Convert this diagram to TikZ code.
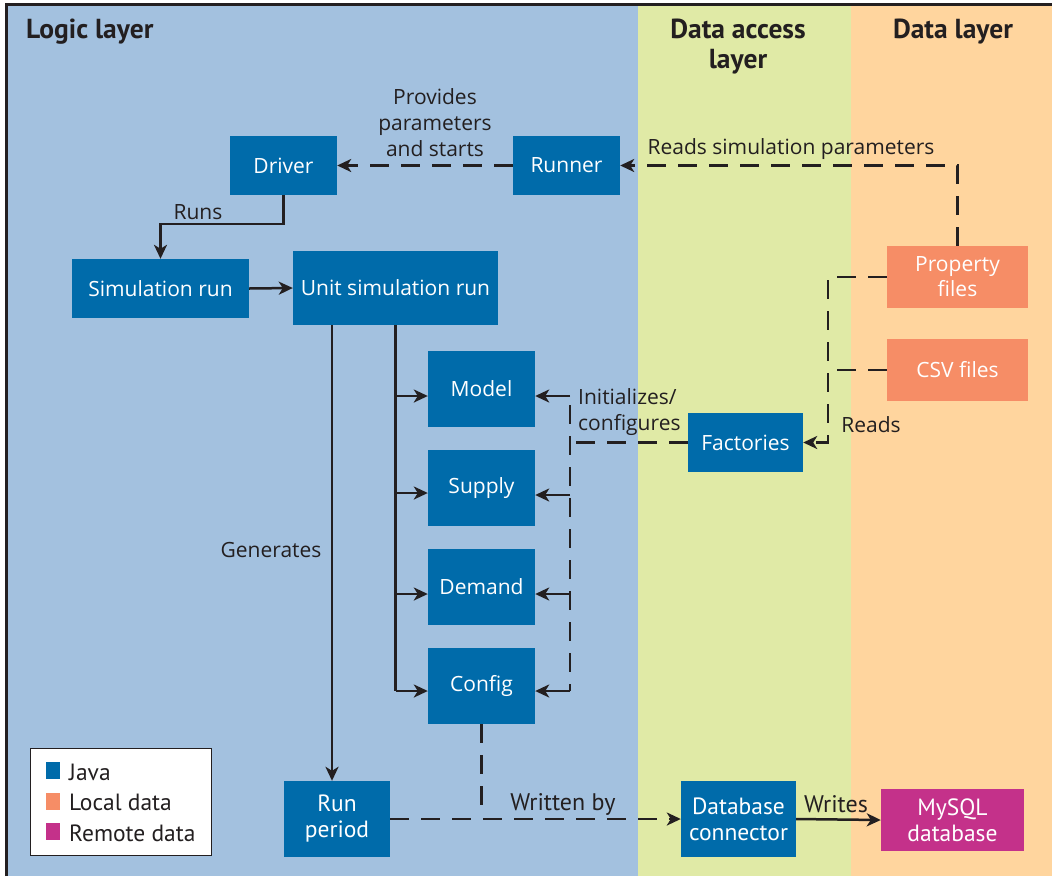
\documentclass[tikz,border=0pt]{standalone}
\usepackage{fontspec}
\setmainfont{Open Sans}
\newfontfamily\cond{PT Sans}
\usetikzlibrary{arrows.meta}
\definecolor{bglogic}{HTML}{A3C1DF}
\definecolor{bgaccess}{HTML}{E0EAA6}
\definecolor{bgdata}{HTML}{FFD59E}
\definecolor{jblue}{HTML}{006BAA}
\definecolor{lorange}{HTML}{F68D66}
\definecolor{rmag}{HTML}{C4318A}
\definecolor{ink}{HTML}{231F20}
\tikzset{
  box/.style={fill=jblue, text=white, inner sep=0pt, align=center, font=\fontsize{21}{25}\selectfont},
  lbox/.style={box, fill=lorange},
  rbox/.style={box, fill=rmag},
  condbox/.style={font=\cond\fontsize{23.5}{26}\selectfont},
  conn/.style={draw=ink, line width=2.5pt, -{Stealth[length=14pt,width=13pt,inset=4pt]}},
  plain/.style={draw=ink, line width=2.5pt},
  dsh/.style={dash pattern=on 19pt off 12pt},
  lbl/.style={text=ink, inner sep=0pt, align=center, font=\fontsize{21}{26}\selectfont},
  clbl/.style={text=ink, inner sep=0pt, align=center, font=\cond\fontsize{24}{26}\selectfont},
  head/.style={text=ink, inner sep=0pt, align=center, font=\cond\bfseries\fontsize{27.5}{30}\selectfont},
}
\begin{document}
\begin{tikzpicture}[x=1pt,y=-1pt]
\useasboundingbox (0,0) rectangle (1052,876);
% backgrounds
\fill[bglogic] (6,4) rectangle (638,876);
\fill[bgaccess] (638,4) rectangle (851,876);
\fill[bgdata] (851,4) rectangle (1052,876);
\draw[ink, line width=3pt] (6,876) -- (6,4) -- (1052,4);
% headings
\node[head, anchor=west] (hlogic) at (26,32) {Logic layer};
\node[head] (haccess) at (738,47) {Data access\\layer};
\node[head] (hdata) at (953,32) {Data layer};
% boxes
\node[box, minimum width=107pt, minimum height=59pt] (driver) at (283.5,165.5) {Driver};
\node[box, minimum width=107pt, minimum height=59pt] (runner) at (566.5,165.5) {Runner};
\node[box, minimum width=177pt, minimum height=59pt] (simrun) at (160.5,288.5) {Simulation run};
\node[box, minimum width=205pt, minimum height=74pt] (usr) at (395.5,288) {Unit simulation run};
\node[box, minimum width=107pt, minimum height=76pt] (model) at (481.5,389) {Model};
\node[box, minimum width=107pt, minimum height=76pt] (supply) at (481.5,488) {Supply};
\node[box, minimum width=107pt, minimum height=76pt] (demand) at (481.5,587) {Demand};
\node[box, minimum width=107pt, minimum height=76pt] (cfg) at (481.5,686) {Config};
\node[box, minimum width=115pt, minimum height=59pt] (fac) at (745.5,442.5) {Factories};
\node[lbox, minimum width=141pt, minimum height=62pt] (prop) at (957.5,277) {Property\\files};
\node[lbox, minimum width=141pt, minimum height=62pt] (csv) at (957.5,370) {CSV files};
\node[box, condbox, minimum width=106pt, minimum height=76pt] (rp) at (337,819) {Run\\period};
\node[box, condbox, minimum width=115pt, minimum height=76pt] (dbc) at (738.5,819) {Database\\connector};
\node[rbox, condbox, minimum width=143pt, minimum height=62pt] (mysql) at (952.5,820) {MySQL\\database};
% helper coordinates
\coordinate (gx) at (332,0);
\coordinate (fx) at (570,0);
\coordinate (px) at (828,0);
% connectors
\draw[conn, dsh] (runner.west) -- (driver.east);
\draw[conn, dsh] (prop.north) |- (runner.east);
\draw[conn] (driver.south) -- ++(0,29) -| (simrun.north);
\draw[conn] (simrun.east) -- (usr.west);
\draw[conn] (usr.south -| gx) -- (rp.north -| gx);
\draw[plain] (usr.south) -- ([yshift=-5pt]cfg.west -| usr.south);
\draw[conn] ([yshift=-7pt]model.west -| usr.south) -- ([yshift=-7pt]model.west);
\draw[conn] ([yshift=-5pt]supply.west -| usr.south) -- ([yshift=-5pt]supply.west);
\draw[conn] ([yshift=-7pt]demand.west -| usr.south) -- ([yshift=-7pt]demand.west);
\draw[conn] ([yshift=-5pt]cfg.west -| usr.south) -- ([yshift=-5pt]cfg.west);
% factories
\draw[plain, dsh] (fac.west) -- (fac.west -| fx);
\draw[plain, dsh] ([yshift=-16pt]model.east -| fx) -- ([yshift=-5pt]cfg.east -| fx);
\draw[conn] ([yshift=-7pt]model.east -| fx) -- ([yshift=-7pt]model.east);
\draw[conn] ([yshift=-7pt]supply.east -| fx) -- ([yshift=-7pt]supply.east);
\draw[conn] ([yshift=-7pt]demand.east -| fx) -- ([yshift=-7pt]demand.east);
\draw[conn] ([yshift=-5pt]cfg.east -| fx) -- ([yshift=-5pt]cfg.east);
% data files to factories
\draw[conn, dsh] (prop.west) -- (prop.west -| px) |- (fac.east);
\draw[plain, dsh] (csv.west) -- (csv.west -| px);
% writing
\draw[plain, dsh] (cfg.south) -- ([yshift=10pt]cfg.south |- rp.east);
\draw[conn, dsh] (rp.east) -- (dbc.west);
\draw[conn] (dbc.east) -- (mysql.west);
% labels
\node[lbl] (lprov) at (435,123) {Provides\\parameters\\and starts};
\node[lbl] (lreads) at (791,149) {Reads simulation parameters};
\node[lbl] (lruns) at (198,212) {Runs};
\node[lbl] (lgen) at (271,550) {Generates};
\node[lbl, align=left, anchor=west] (linit) at (578,412) {Initializes/\\configures};
\node[lbl] (lreads2) at (871,425) {Reads};
\node[clbl] (lwritten) at (563,804) {Written by};
\node[clbl] (lwrites) at (836,804) {Writes};
% legend
\node[draw=ink, line width=1pt, fill=white, minimum width=181pt, minimum height=107pt, inner sep=0pt] (legend) at (120.5,801.5) {};
\fill[jblue] (46,762) rectangle (60,779);
\fill[lorange] (46,793) rectangle (60,810);
\fill[rmag] (46,823) rectangle (60,840);
\node[clbl, anchor=west, font=\cond\fontsize{23.5}{26}\selectfont] (ljava) at (69,772) {Java};
\node[clbl, anchor=west, font=\cond\fontsize{23.5}{26}\selectfont] (llocal) at (69,802) {Local data};
\node[clbl, anchor=west, font=\cond\fontsize{23.5}{26}\selectfont] (lremote) at (69,833) {Remote data};
\end{tikzpicture}
\end{document}
